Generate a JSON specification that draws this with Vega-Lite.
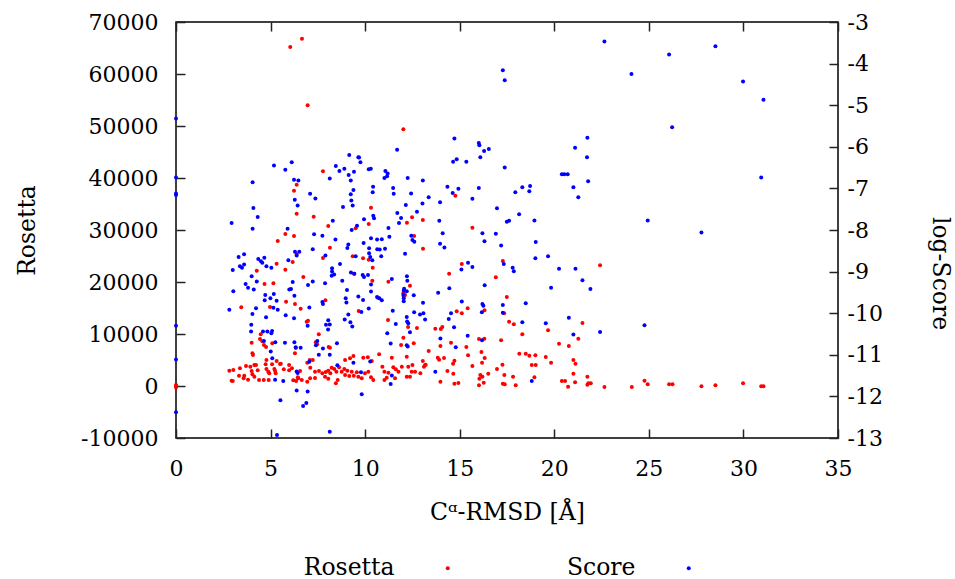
{
"$schema": "https://vega.github.io/schema/vega-lite/v6.json",
"width": 662, "height": 416,
"autosize": {"type": "none"},
"padding": {"left": 176, "top": 22, "right": 117, "bottom": 141},
"background": "white",
"config": {
 "font": "DejaVu Serif",
 "view": {"stroke": "black", "strokeWidth": 1.5},
 "axis": {"labelFont": "DejaVu Serif", "labelFontSize": 22, "labelColor": "black", "titleFont": "DejaVu Serif", "titleFontSize": 23.5, "titleFontWeight": "normal", "titleColor": "black", "grid": false, "domain": false, "tickColor": "#222", "tickSize": -9, "tickWidth": 1.5, "labelFlush": false}
},
"datasets": {
"ros": [
{"rmsd":6.04,"val":65190},{"rmsd":6.38,"val":38710},{"rmsd":6.24,"val":37560},{"rmsd":6.38,"val":33140},{"rmsd":6.24,"val":28860},{"rmsd":6.66,"val":66790},{"rmsd":6.96,"val":53980},{"rmsd":12.02,"val":49360},{"rmsd":7.77,"val":41280},{"rmsd":10.31,"val":34290},{"rmsd":12.48,"val":32440},{"rmsd":13.05,"val":31920},{"rmsd":12.21,"val":31400},{"rmsd":10.19,"val":31150},{"rmsd":9.5,"val":30330},{"rmsd":8.05,"val":30770},{"rmsd":7.28,"val":32560},{"rmsd":14.77,"val":36600},{"rmsd":15.67,"val":30440},
{"rmsd":5.38,"val":27880},{"rmsd":5.78,"val":29230},{"rmsd":5.32,"val":23520},{"rmsd":4.27,"val":22170},{"rmsd":6.17,"val":23840},{"rmsd":6.38,"val":25380},{"rmsd":5.78,"val":22360},{"rmsd":4.68,"val":19610},{"rmsd":5.15,"val":19750},{"rmsd":4.97,"val":15190},{"rmsd":5.82,"val":16210},{"rmsd":6.29,"val":15770},{"rmsd":3.45,"val":15130},
{"rmsd":4.48,"val":9940},{"rmsd":4.44,"val":9040},{"rmsd":4.56,"val":8600},{"rmsd":4.65,"val":7880},{"rmsd":4.76,"val":7500},{"rmsd":4.0,"val":8330},{"rmsd":5.09,"val":8210},{"rmsd":6.33,"val":7310},{"rmsd":4.04,"val":6290},{"rmsd":4.07,"val":5960},{"rmsd":4.78,"val":5000},{"rmsd":6.29,"val":6290},{"rmsd":5.32,"val":4810},{"rmsd":5.08,"val":4170},{"rmsd":5.54,"val":4290},{"rmsd":5.98,"val":4040},
{"rmsd":3.7,"val":3850},{"rmsd":3.93,"val":3710},{"rmsd":4.14,"val":4040},{"rmsd":4.23,"val":4040},{"rmsd":3.38,"val":3400},{"rmsd":2.82,"val":2940},{"rmsd":3.03,"val":3080},{"rmsd":4.0,"val":2880},{"rmsd":4.32,"val":3020},{"rmsd":4.78,"val":3270},{"rmsd":5.2,"val":3270},{"rmsd":4.74,"val":4170},
{"rmsd":3.33,"val":1980},{"rmsd":3.61,"val":1980},{"rmsd":3.58,"val":1480},{"rmsd":3.81,"val":1210},{"rmsd":4.04,"val":2250},{"rmsd":4.14,"val":1790},{"rmsd":4.39,"val":1150},{"rmsd":4.64,"val":1150},{"rmsd":2.94,"val":1020},{"rmsd":3.0,"val":960},
{"rmsd":4.88,"val":2750},{"rmsd":4.93,"val":2440},{"rmsd":5.24,"val":2880},{"rmsd":5.27,"val":2440},{"rmsd":5.5,"val":4230},{"rmsd":5.7,"val":3210},{"rmsd":5.98,"val":3020},{"rmsd":6.13,"val":3400},{"rmsd":6.2,"val":1090},{"rmsd":6.35,"val":960},{"rmsd":6.47,"val":1480},{"rmsd":4.9,"val":1150},
{"rmsd":0,"val":200},{"rmsd":0,"val":-300},{"rmsd":0,"val":0},
{"rmsd":12.59,"val":28850},{"rmsd":8.14,"val":26590},{"rmsd":7.77,"val":24610},{"rmsd":9.34,"val":24940},{"rmsd":9.89,"val":24560},{"rmsd":10.19,"val":24290},{"rmsd":10.4,"val":22750},{"rmsd":13.06,"val":26400},{"rmsd":9.41,"val":21600},{"rmsd":6.73,"val":20960},{"rmsd":10.38,"val":20250},{"rmsd":11.23,"val":20060},{"rmsd":12.37,"val":19290},{"rmsd":12.02,"val":17830},{"rmsd":12.04,"val":17170},{"rmsd":12.11,"val":17500},{"rmsd":10.68,"val":16980},{"rmsd":7.9,"val":16480},{"rmsd":6.59,"val":14860},{"rmsd":9.66,"val":14420},{"rmsd":11.21,"val":12690},{"rmsd":12.27,"val":11350},{"rmsd":12.74,"val":11150},{"rmsd":6.91,"val":12370},{"rmsd":6.98,"val":12560},{"rmsd":7.55,"val":9940},{"rmsd":7.39,"val":8400},{"rmsd":7.46,"val":8020},{"rmsd":12.02,"val":9290},{"rmsd":11.9,"val":7880},{"rmsd":12.57,"val":8210},{"rmsd":13.36,"val":6730},{"rmsd":8.07,"val":7500},{"rmsd":8.14,"val":7370},{"rmsd":7.23,"val":5000},{"rmsd":7.07,"val":5000},
{"rmsd":6.94,"val":4480},{"rmsd":7.1,"val":3520},{"rmsd":7.35,"val":2750},{"rmsd":7.56,"val":2880},{"rmsd":7.74,"val":2440},{"rmsd":7.92,"val":2690},{"rmsd":8.23,"val":3520},{"rmsd":8.37,"val":3270},{"rmsd":8.48,"val":2750},{"rmsd":8.62,"val":3600},{"rmsd":8.76,"val":2750},{"rmsd":8.9,"val":3270},{"rmsd":8.94,"val":2120},{"rmsd":9.06,"val":2940},{"rmsd":9.16,"val":1920},{"rmsd":9.29,"val":2750},{"rmsd":9.4,"val":1980},{"rmsd":9.56,"val":2630},{"rmsd":9.64,"val":1790},{"rmsd":9.82,"val":1480},{"rmsd":9.99,"val":2440},{"rmsd":10.17,"val":2750},{"rmsd":10.31,"val":1670},{"rmsd":10.43,"val":1150},{"rmsd":8.55,"val":1150},{"rmsd":8.45,"val":520},{"rmsd":8.05,"val":1400},{"rmsd":7.88,"val":1790},{"rmsd":7.35,"val":1540},{"rmsd":7.09,"val":1480},{"rmsd":6.94,"val":830},{"rmsd":6.65,"val":1150},{"rmsd":6.44,"val":1670},{"rmsd":6.56,"val":2880},{"rmsd":8.05,"val":2940},{"rmsd":8.16,"val":2440},{"rmsd":8.94,"val":5000},{"rmsd":9.2,"val":5330},{"rmsd":9.38,"val":5770},{"rmsd":9.9,"val":5440},{"rmsd":10.14,"val":5520},{"rmsd":10.35,"val":4810},{"rmsd":10.74,"val":6100},{"rmsd":10.91,"val":3710},{"rmsd":11.02,"val":2750},{"rmsd":11.14,"val":1600},{"rmsd":11.02,"val":1150},{"rmsd":11.23,"val":2560},{"rmsd":11.41,"val":5440},{"rmsd":11.49,"val":3600},{"rmsd":11.62,"val":3210},{"rmsd":11.76,"val":2750},{"rmsd":11.58,"val":1480},{"rmsd":11.94,"val":3710},{"rmsd":12.2,"val":5630},{"rmsd":12.28,"val":3710},{"rmsd":12.5,"val":4040},{"rmsd":12.46,"val":2750},{"rmsd":12.37,"val":1790},{"rmsd":12.2,"val":1790},{"rmsd":12.64,"val":2750},{"rmsd":12.92,"val":2440},{"rmsd":13.05,"val":4810},{"rmsd":13.11,"val":3710},{"rmsd":13.2,"val":4100},
{"rmsd":15.11,"val":23460},{"rmsd":14.44,"val":21600},{"rmsd":17.28,"val":24040},{"rmsd":16.91,"val":20900},{"rmsd":17.49,"val":17110},{"rmsd":16.31,"val":14560},{"rmsd":15.42,"val":14940},{"rmsd":14.84,"val":14370},{"rmsd":15.11,"val":13980},{"rmsd":17.35,"val":13980},{"rmsd":17.61,"val":12370},{"rmsd":17.86,"val":11860},{"rmsd":19.67,"val":10710},{"rmsd":18.31,"val":9940},{"rmsd":13.71,"val":11020},{"rmsd":14.0,"val":10960},{"rmsd":14.08,"val":11350},{"rmsd":16.02,"val":9040},{"rmsd":16.3,"val":9100},{"rmsd":17.19,"val":8790},{"rmsd":14.54,"val":8330},{"rmsd":13.98,"val":7690},{"rmsd":15.35,"val":7500},{"rmsd":16.15,"val":6540},{"rmsd":15.44,"val":5900},{"rmsd":16.32,"val":5380},{"rmsd":13.84,"val":5450},{"rmsd":13.91,"val":5060},{"rmsd":14.17,"val":5380},{"rmsd":14.72,"val":4870},{"rmsd":14.65,"val":4290},{"rmsd":16.18,"val":4480},{"rmsd":18.15,"val":6210},{"rmsd":18.49,"val":6210},{"rmsd":18.68,"val":5830},{"rmsd":19.0,"val":5900},{"rmsd":19.55,"val":5580},{"rmsd":19.83,"val":4480},{"rmsd":18.81,"val":4040},{"rmsd":19.02,"val":4040},{"rmsd":17.26,"val":4100},{"rmsd":15.67,"val":3850},{"rmsd":16.97,"val":3270},{"rmsd":14.35,"val":2880},{"rmsd":14.66,"val":2370},{"rmsd":16.51,"val":2370},{"rmsd":17.36,"val":2120},{"rmsd":17.82,"val":1790},{"rmsd":16.09,"val":2120},{"rmsd":16.2,"val":1790},{"rmsd":16.04,"val":1400},{"rmsd":16.27,"val":640},{"rmsd":16.02,"val":130},{"rmsd":13.98,"val":830},{"rmsd":14.72,"val":440},{"rmsd":14.93,"val":580},{"rmsd":17.28,"val":440},{"rmsd":17.38,"val":330},{"rmsd":17.96,"val":130},{"rmsd":18.95,"val":1670},{"rmsd":13.17,"val":4040},
{"rmsd":22.42,"val":23210},{"rmsd":21.49,"val":12110},{"rmsd":21.27,"val":9100},{"rmsd":20.25,"val":8130},{"rmsd":20.77,"val":7690},{"rmsd":21.01,"val":5000},{"rmsd":21.12,"val":4290},{"rmsd":21.01,"val":2370},{"rmsd":21.75,"val":1790},{"rmsd":20.4,"val":960},{"rmsd":20.57,"val":960},{"rmsd":21.1,"val":710},{"rmsd":20.73,"val":-130},{"rmsd":21.75,"val":250},{"rmsd":21.93,"val":520},{"rmsd":21.8,"val":520},{"rmsd":22.65,"val":-190},{"rmsd":24.1,"val":-190},{"rmsd":24.77,"val":1020},{"rmsd":24.94,"val":330},{"rmsd":26.07,"val":330},{"rmsd":26.25,"val":330},{"rmsd":27.78,"val":-60},{"rmsd":28.52,"val":130},{"rmsd":29.98,"val":520},{"rmsd":30.94,"val":-60},{"rmsd":31.06,"val":-60}
],
"score": [
{"rmsd":0,"val":-5.32},{"rmsd":0,"val":-6.74},{"rmsd":0,"val":-7.12},{"rmsd":0,"val":-7.16},{"rmsd":0,"val":-10.3},{"rmsd":0,"val":-11.11},{"rmsd":0,"val":-12.38},
{"rmsd":5.18,"val":-6.45},{"rmsd":6.12,"val":-6.37},{"rmsd":5.78,"val":-6.55},{"rmsd":4.05,"val":-6.85},{"rmsd":6.24,"val":-6.79},{"rmsd":6.47,"val":-6.81},{"rmsd":6.28,"val":-7.27},{"rmsd":6.43,"val":-7.41},{"rmsd":4.09,"val":-7.47},{"rmsd":4.32,"val":-7.69},{"rmsd":2.94,"val":-7.83},{"rmsd":4.05,"val":-7.97},{"rmsd":5.9,"val":-7.97},
{"rmsd":11.69,"val":-6.07},{"rmsd":9.16,"val":-6.2},{"rmsd":9.64,"val":-6.25},{"rmsd":9.68,"val":-6.26},{"rmsd":9.75,"val":-6.37},{"rmsd":8.45,"val":-6.46},{"rmsd":8.9,"val":-6.53},{"rmsd":8.64,"val":-6.58},{"rmsd":9.41,"val":-6.6},{"rmsd":9.13,"val":-6.68},{"rmsd":9.24,"val":-6.81},{"rmsd":8.13,"val":-6.76},{"rmsd":10.19,"val":-6.54},{"rmsd":10.3,"val":-6.53},{"rmsd":11.07,"val":-6.58},{"rmsd":11.19,"val":-6.64},{"rmsd":11.16,"val":-6.71},{"rmsd":11.02,"val":-6.75},{"rmsd":12.25,"val":-6.75},{"rmsd":13.05,"val":-6.81},{"rmsd":13.36,"val":-7.21},{"rmsd":10.42,"val":-6.96},{"rmsd":10.4,"val":-7.09},{"rmsd":11.48,"val":-6.99},{"rmsd":11.51,"val":-7.13},{"rmsd":12.43,"val":-7.12},{"rmsd":9.38,"val":-7.04},{"rmsd":9.24,"val":-7.14},{"rmsd":7.09,"val":-7.13},{"rmsd":7.37,"val":-7.24},{"rmsd":9.27,"val":-7.29},{"rmsd":9.34,"val":-7.41},{"rmsd":8.83,"val":-7.45},{"rmsd":12.15,"val":-7.4},{"rmsd":13.03,"val":-7.36},{"rmsd":12.74,"val":-7.56},{"rmsd":11.7,"val":-7.59},{"rmsd":11.9,"val":-7.71},{"rmsd":11.79,"val":-7.83},{"rmsd":10.43,"val":-7.66},{"rmsd":10.47,"val":-7.72},{"rmsd":9.94,"val":-7.74},{"rmsd":9.57,"val":-7.9},{"rmsd":9.29,"val":-8.0},{"rmsd":8.29,"val":-7.78},{"rmsd":11.23,"val":-7.95},
{"rmsd":17.28,"val":-4.16},{"rmsd":17.38,"val":-4.4},{"rmsd":14.72,"val":-5.8},{"rmsd":16.01,"val":-5.91},{"rmsd":16.04,"val":-5.96},{"rmsd":16.54,"val":-6.05},{"rmsd":16.29,"val":-6.1},{"rmsd":16.09,"val":-6.25},{"rmsd":14.65,"val":-6.36},{"rmsd":14.84,"val":-6.3},{"rmsd":15.35,"val":-6.36},{"rmsd":17.38,"val":-6.5},{"rmsd":14.35,"val":-6.96},{"rmsd":14.93,"val":-7.01},{"rmsd":14.63,"val":-7.11},{"rmsd":16.01,"val":-6.99},{"rmsd":13.96,"val":-7.33},{"rmsd":15.67,"val":-7.25},{"rmsd":17.94,"val":-7.09},{"rmsd":18.31,"val":-6.97},{"rmsd":18.72,"val":-6.94},{"rmsd":18.68,"val":-7.07},{"rmsd":16.97,"val":-7.48},{"rmsd":18.14,"val":-7.62},{"rmsd":13.92,"val":-7.78},{"rmsd":17.49,"val":-7.8},{"rmsd":17.61,"val":-7.78},{"rmsd":18.95,"val":-7.77},
{"rmsd":22.65,"val":-3.47},{"rmsd":26.07,"val":-3.78},{"rmsd":24.08,"val":-4.25},{"rmsd":26.23,"val":-5.53},{"rmsd":21.75,"val":-5.78},{"rmsd":21.1,"val":-6.02},{"rmsd":21.73,"val":-6.25},{"rmsd":20.4,"val":-6.66},{"rmsd":20.53,"val":-6.66},{"rmsd":20.71,"val":-6.66},{"rmsd":21.79,"val":-6.83},{"rmsd":21.01,"val":-6.97},{"rmsd":21.27,"val":-7.21},{"rmsd":24.94,"val":-7.77},
{"rmsd":28.52,"val":-3.58},{"rmsd":29.98,"val":-4.43},{"rmsd":31.06,"val":-4.87},{"rmsd":30.94,"val":-6.74},{"rmsd":27.78,"val":-8.06},
{"rmsd":5.34,"val":-12.93},{"rmsd":3.31,"val":-8.65},{"rmsd":3.6,"val":-8.58},{"rmsd":3.38,"val":-8.87},{"rmsd":3.49,"val":-8.91},{"rmsd":3.6,"val":-8.83},{"rmsd":3.0,"val":-8.96},{"rmsd":4.35,"val":-8.7},{"rmsd":4.49,"val":-8.75},{"rmsd":4.56,"val":-8.79},{"rmsd":4.67,"val":-8.67},{"rmsd":4.78,"val":-8.87},{"rmsd":5.04,"val":-8.91},{"rmsd":5.94,"val":-8.73},{"rmsd":6.52,"val":-8.52},{"rmsd":4.0,"val":-9.11},{"rmsd":4.27,"val":-9.24},{"rmsd":3.68,"val":-9.3},{"rmsd":3.81,"val":-9.39},{"rmsd":4.11,"val":-9.43},{"rmsd":3.03,"val":-9.47},{"rmsd":5.99,"val":-9.43},{"rmsd":6.08,"val":-9.42},{"rmsd":6.17,"val":-9.25},{"rmsd":5.17,"val":-9.54},{"rmsd":4.99,"val":-9.64},{"rmsd":4.72,"val":-9.56},{"rmsd":4.69,"val":-9.69},{"rmsd":5.15,"val":-9.87},{"rmsd":5.38,"val":-9.92},{"rmsd":5.32,"val":-9.7},{"rmsd":6.26,"val":-9.58},{"rmsd":4.23,"val":-9.88},{"rmsd":2.82,"val":-9.92},{"rmsd":4.04,"val":-10.02},{"rmsd":4.76,"val":-10.1},{"rmsd":5.8,"val":-10.05},{"rmsd":6.24,"val":-10.12},{"rmsd":3.98,"val":-10.28},{"rmsd":3.97,"val":-10.44},{"rmsd":4.6,"val":-10.44},{"rmsd":4.83,"val":-10.44},{"rmsd":5.08,"val":-10.43},{"rmsd":5.04,"val":-10.48},{"rmsd":4.65,"val":-10.67},{"rmsd":5.25,"val":-10.7},{"rmsd":5.76,"val":-10.71},{"rmsd":6.26,"val":-10.7},{"rmsd":5.01,"val":-10.92},{"rmsd":5.09,"val":-11.08},{"rmsd":5.24,"val":-11.6},{"rmsd":5.67,"val":-11.63},{"rmsd":6.38,"val":-11.4},{"rmsd":6.43,"val":-11.44},{"rmsd":6.38,"val":-11.86},{"rmsd":5.52,"val":-12.09},
{"rmsd":7.3,"val":-8.1},{"rmsd":7.74,"val":-8.14},{"rmsd":8.43,"val":-8.23},{"rmsd":10.31,"val":-8.2},{"rmsd":10.63,"val":-8.23},{"rmsd":10.88,"val":-8.22},{"rmsd":11.28,"val":-8.16},{"rmsd":9.92,"val":-8.31},{"rmsd":12.44,"val":-8.14},{"rmsd":12.5,"val":-8.24},{"rmsd":12.6,"val":-8.28},{"rmsd":6.29,"val":-8.52},{"rmsd":6.38,"val":-8.61},{"rmsd":7.23,"val":-8.46},{"rmsd":7.9,"val":-8.61},{"rmsd":9.11,"val":-8.35},{"rmsd":9.06,"val":-8.43},{"rmsd":9.5,"val":-8.63},{"rmsd":10.21,"val":-8.44},{"rmsd":10.21,"val":-8.56},{"rmsd":10.27,"val":-8.65},{"rmsd":10.38,"val":-8.73},{"rmsd":10.64,"val":-8.46},{"rmsd":10.77,"val":-8.47},{"rmsd":11.05,"val":-8.45},{"rmsd":10.85,"val":-8.63},{"rmsd":12.11,"val":-8.57},{"rmsd":8.67,"val":-8.82},{"rmsd":8.25,"val":-8.92},{"rmsd":8.25,"val":-9.0},{"rmsd":8.23,"val":-9.1},{"rmsd":8.36,"val":-9.07},{"rmsd":9.25,"val":-9.02},{"rmsd":9.43,"val":-9.05},{"rmsd":7.23,"val":-9.24},{"rmsd":6.98,"val":-9.32},{"rmsd":7.88,"val":-9.28},{"rmsd":8.79,"val":-9.22},{"rmsd":9.04,"val":-9.44},{"rmsd":9.87,"val":-9.08},{"rmsd":9.94,"val":-9.13},{"rmsd":10.15,"val":-9.08},{"rmsd":10.31,"val":-9.31},{"rmsd":11.41,"val":-9.18},{"rmsd":12.21,"val":-9.11},{"rmsd":12.23,"val":-9.22},{"rmsd":12.06,"val":-9.41},{"rmsd":12.04,"val":-9.46},{"rmsd":12.02,"val":-9.56},{"rmsd":12.04,"val":-9.64},{"rmsd":12.04,"val":-9.71},{"rmsd":12.2,"val":-9.47},{"rmsd":12.57,"val":-9.57},{"rmsd":10.63,"val":-9.61},{"rmsd":10.75,"val":-9.64},{"rmsd":10.88,"val":-9.69},{"rmsd":10.31,"val":-9.48},{"rmsd":9.64,"val":-9.6},{"rmsd":9.89,"val":-9.68},{"rmsd":8.97,"val":-9.64},{"rmsd":9.01,"val":-9.74},{"rmsd":7.74,"val":-9.73},{"rmsd":7.77,"val":-9.78},{"rmsd":7.05,"val":-9.86},{"rmsd":10.19,"val":-9.89},{"rmsd":9.8,"val":-9.97},{"rmsd":11.46,"val":-9.94},{"rmsd":9.11,"val":-10.03},{"rmsd":12.2,"val":-10.09},{"rmsd":12.22,"val":-10.2},{"rmsd":12.28,"val":-10.24},{"rmsd":12.59,"val":-9.98},{"rmsd":13.06,"val":-9.75},{"rmsd":12.9,"val":-10.03},{"rmsd":13.08,"val":-10.0},{"rmsd":11.62,"val":-10.26},{"rmsd":12.37,"val":-10.46},{"rmsd":6.96,"val":-10.3},{"rmsd":8.05,"val":-10.17},{"rmsd":8.13,"val":-10.27},{"rmsd":8.04,"val":-10.39},{"rmsd":7.93,"val":-10.28},{"rmsd":8.92,"val":-10.15},{"rmsd":9.22,"val":-10.22},{"rmsd":9.32,"val":-10.32},{"rmsd":7.47,"val":-10.67},{"rmsd":7.4,"val":-10.77},{"rmsd":8.51,"val":-10.72},{"rmsd":11.17,"val":-10.48},{"rmsd":11.35,"val":-10.73},{"rmsd":12.2,"val":-10.77},{"rmsd":12.25,"val":-10.8},{"rmsd":7.77,"val":-10.85},{"rmsd":6.33,"val":-10.82},{"rmsd":6.59,"val":-10.83},{"rmsd":8.13,"val":-11.0},{"rmsd":7.55,"val":-11.0},{"rmsd":7.05,"val":-11.17},{"rmsd":8.53,"val":-11.25},{"rmsd":9.38,"val":-11.19},{"rmsd":10.27,"val":-11.16},{"rmsd":9.78,"val":-11.42},{"rmsd":11.41,"val":-11.5},{"rmsd":11.35,"val":-11.7},{"rmsd":9.82,"val":-11.95},{"rmsd":6.96,"val":-11.88},{"rmsd":6.89,"val":-12.16},{"rmsd":6.72,"val":-12.23},{"rmsd":8.13,"val":-12.85},
{"rmsd":14.1,"val":-8.08},{"rmsd":16.2,"val":-8.08},{"rmsd":16.31,"val":-8.27},{"rmsd":16.91,"val":-8.09},{"rmsd":13.96,"val":-8.33},{"rmsd":14.19,"val":-8.42},{"rmsd":17.19,"val":-8.37},{"rmsd":19.02,"val":-8.29},{"rmsd":19.0,"val":-8.68},{"rmsd":19.67,"val":-8.63},{"rmsd":20.25,"val":-8.93},{"rmsd":15.44,"val":-8.79},{"rmsd":15.67,"val":-8.89},{"rmsd":15.09,"val":-8.95},{"rmsd":17.33,"val":-8.82},{"rmsd":17.8,"val":-8.91},{"rmsd":17.86,"val":-8.99},{"rmsd":16.32,"val":-9.33},{"rmsd":14.45,"val":-9.4},{"rmsd":13.86,"val":-9.51},{"rmsd":19.83,"val":-9.39},{"rmsd":15.11,"val":-9.72},{"rmsd":16.2,"val":-9.78},{"rmsd":16.25,"val":-9.82},{"rmsd":16.17,"val":-9.98},{"rmsd":14.54,"val":-10.0},{"rmsd":17.28,"val":-9.8},{"rmsd":17.28,"val":-9.99},{"rmsd":18.49,"val":-9.76},{"rmsd":13.17,"val":-10.15},{"rmsd":14.42,"val":-10.14},{"rmsd":18.31,"val":-10.22},{"rmsd":19.55,"val":-10.24},{"rmsd":14.7,"val":-10.34},{"rmsd":15.42,"val":-10.54},{"rmsd":16.18,"val":-10.65},{"rmsd":13.98,"val":-10.61},{"rmsd":14.79,"val":-10.82},{"rmsd":18.81,"val":-11.63},{"rmsd":13.71,"val":-11.41},
{"rmsd":21.12,"val":-8.93},{"rmsd":21.49,"val":-9.21},{"rmsd":21.91,"val":-9.42},{"rmsd":20.77,"val":-10.11},{"rmsd":24.77,"val":-10.29},{"rmsd":22.42,"val":-10.45},{"rmsd":21.01,"val":-10.51}
]
},
"layer": [
 {
  "data": {"name": "ros"},
  "mark": {"type": "circle", "size": 16, "opacity": 1},
  "encoding": {
   "x": {"field": "rmsd", "type": "quantitative", "scale": {"domain": [0, 35], "nice": false},
     "axis": {"orient": "bottom", "values": [0,5,10,15,20,25,30,35], "title": "Cᵅ-RMSD [Å]", "labelPadding": 29, "titlePadding": 21}},
   "y": {"field": "val", "type": "quantitative", "scale": {"domain": [-10000, 70000], "nice": false, "zero": false},
     "axis": {"orient": "left", "values": [-10000,0,10000,20000,30000,40000,50000,60000,70000], "labelExpr": "toString(datum.value)", "title": "Rosetta", "labelPadding": 27, "titlePadding": 41}},
   "color": {"datum": "Rosetta", "type": "nominal", "scale": {"domain": ["Rosetta", "Score"], "range": ["#ff0000", "#0000ff"]},
     "legend": {"orient": "none", "legendX": 260, "legendY": 534, "direction": "horizontal", "title": null, "labelFont": "DejaVu Serif", "labelFontSize": 23.5, "labelColor": "black", "symbolType": "circle", "symbolSize": 16, "symbolStrokeWidth": 0, "labelAlign": "right", "labelOffset": -65, "columnPadding": 116}}
  }
 },
 {
  "data": {"name": "score"},
  "mark": {"type": "circle", "size": 16, "opacity": 1},
  "encoding": {
   "x": {"field": "rmsd", "type": "quantitative", "scale": {"domain": [0, 35], "nice": false},
     "axis": {"orient": "top", "values": [0,5,10,15,20,25,30,35], "labels": false, "title": null}},
   "y": {"field": "val", "type": "quantitative", "scale": {"domain": [-13, -3], "nice": false, "zero": false},
     "axis": {"orient": "right", "values": [-13,-12,-11,-10,-9,-8,-7,-6,-5,-4,-3], "labelExpr": "toString(datum.value)", "title": "log-Score", "labelPadding": 18, "titlePadding": 45, "titleY": 251}},
   "color": {"datum": "Score", "type": "nominal"}
  }
 }
],
"resolve": {"scale": {"y": "independent"}, "axis": {"x": "independent"}}
}
